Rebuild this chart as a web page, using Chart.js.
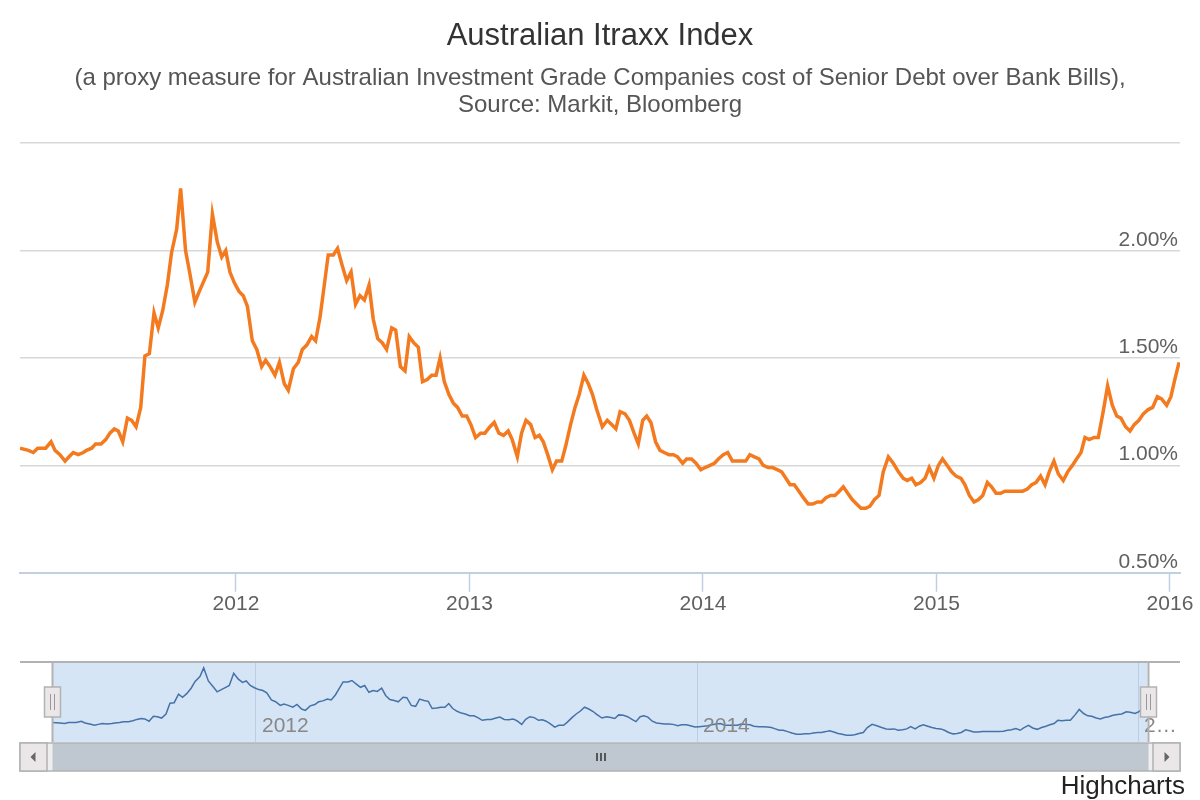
<!DOCTYPE html>
<html>
<head>
<meta charset="utf-8">
<title>Australian Itraxx Index</title>
<script src="https://cdn.jsdelivr.net/npm/chart.js@4.4.1/dist/chart.umd.min.js"></script>
<style>
  html, body { margin: 0; padding: 0; background: #fff; }
  #wrap { position: relative; width: 1200px; height: 800px; }
  #mainBox { position: absolute; left: 0; top: 0; width: 1200px; height: 640px; }
  #navBox { position: absolute; left: 0; top: 640px; width: 1200px; height: 160px; }
</style>
</head>
<body>
<div id="wrap">
  <div id="mainBox"><canvas id="mainChart"></canvas></div>
  <div id="navBox"><canvas id="navChart"></canvas></div>
</div>
<script>
// Texts
const chartTitle = 'Australian Itraxx Index';
const chartSubtitle = [
    '(a proxy measure for Australian Investment Grade Companies cost of Senior Debt over Bank Bills),',
    'Source: Markit, Bloomberg'
];
const creditText = 'Highcharts';

const dates = [
    2011.075, 2011.111, 2011.132, 2011.151, 2011.168, 2011.185, 2011.208, 2011.225, 2011.246, 2011.268,
    2011.285, 2011.303, 2011.325, 2011.346, 2011.360, 2011.382, 2011.399, 2011.422, 2011.442, 2011.460,
    2011.479, 2011.496, 2011.515, 2011.535, 2011.553, 2011.572, 2011.592, 2011.610, 2011.629, 2011.649,
    2011.667, 2011.686, 2011.706, 2011.724, 2011.746, 2011.763, 2011.784, 2011.803, 2011.824, 2011.843,
    2011.863, 2011.879, 2011.899, 2011.920, 2011.939, 2011.956, 2011.974, 2011.993, 2012.013, 2012.031,
    2012.049, 2012.070, 2012.089, 2012.110, 2012.127, 2012.146, 2012.167, 2012.186, 2012.207, 2012.224,
    2012.246, 2012.267, 2012.284, 2012.303,
    2012.324, 2012.341, 2012.360, 2012.377, 2012.395, 2012.417, 2012.435, 2012.455, 2012.474, 2012.493,
    2012.512, 2012.531, 2012.550, 2012.570, 2012.588, 2012.607, 2012.627, 2012.645, 2012.667, 2012.684,
    2012.704, 2012.724, 2012.742, 2012.762, 2012.781, 2012.799, 2012.819, 2012.838, 2012.857, 2012.874,
    2012.892, 2012.912, 2012.931, 2012.949, 2012.969, 2012.988, 2013.006, 2013.026, 2013.048, 2013.066,
    2013.088, 2013.106, 2013.126, 2013.146, 2013.166, 2013.183, 2013.205, 2013.223, 2013.242, 2013.262,
    2013.281, 2013.299, 2013.316, 2013.335, 2013.355, 2013.373, 2013.395, 2013.412, 2013.433, 2013.452,
    2013.470, 2013.490, 2013.509, 2013.527, 2013.545,
    2013.569, 2013.590, 2013.609, 2013.627, 2013.645, 2013.666, 2013.685, 2013.705, 2013.723, 2013.742,
    2013.759, 2013.777, 2013.797, 2013.816, 2013.834, 2013.854, 2013.873, 2013.891, 2013.913, 2013.930,
    2013.951, 2013.970, 2013.991, 2014.009, 2014.030, 2014.049, 2014.066, 2014.087, 2014.106, 2014.126,
    2014.144, 2014.166, 2014.183, 2014.201, 2014.220, 2014.240, 2014.258, 2014.280, 2014.298, 2014.318,
    2014.337, 2014.355, 2014.373, 2014.391, 2014.411, 2014.430, 2014.451, 2014.470, 2014.490, 2014.508,
    2014.527, 2014.547, 2014.565, 2014.584, 2014.601, 2014.620, 2014.640, 2014.658, 2014.677, 2014.697,
    2014.715, 2014.734, 2014.754, 2014.772, 2014.794,
    2014.815, 2014.837, 2014.858, 2014.875, 2014.894, 2014.912, 2014.932, 2014.951, 2014.969, 2014.989,
    2015.008, 2015.026, 2015.046, 2015.065, 2015.084, 2015.105, 2015.122, 2015.141, 2015.161, 2015.179,
    2015.198, 2015.218, 2015.236, 2015.255, 2015.275, 2015.293, 2015.312, 2015.332, 2015.350, 2015.369,
    2015.389, 2015.408, 2015.426, 2015.446, 2015.465, 2015.483, 2015.503, 2015.522, 2015.543, 2015.562,
    2015.582, 2015.600, 2015.619, 2015.636, 2015.654, 2015.675, 2015.693, 2015.714, 2015.733, 2015.753,
    2015.772, 2015.790, 2015.810, 2015.829, 2015.847, 2015.867, 2015.886, 2015.907, 2015.926, 2015.946,
    2015.964, 2015.986, 2016.004, 2016.021, 2016.039
];

// Index level in %
const itraxx = [
    1.08, 1.07, 1.06, 1.08, 1.08, 1.08, 1.11, 1.07, 1.05, 1.02,
    1.04, 1.06, 1.05, 1.06, 1.07, 1.08, 1.10, 1.10, 1.12, 1.15,
    1.17, 1.16, 1.11, 1.22, 1.21, 1.18, 1.27, 1.51, 1.52, 1.71,
    1.64, 1.72, 1.84, 1.99, 2.10, 2.29, 2.00, 1.89, 1.76, 1.81,
    1.86, 1.90, 2.17, 2.04, 1.97, 2.00, 1.90, 1.85, 1.81, 1.79,
    1.74, 1.58, 1.54, 1.46, 1.49, 1.46, 1.42, 1.48, 1.38, 1.35,
    1.45, 1.48, 1.54, 1.56,
    1.60, 1.58, 1.69, 1.83, 1.98, 1.98, 2.01, 1.93, 1.86, 1.90,
    1.75, 1.79, 1.77, 1.84, 1.68, 1.59, 1.57, 1.54, 1.64, 1.63,
    1.46, 1.44, 1.60, 1.57, 1.55, 1.39, 1.40, 1.42, 1.42, 1.50,
    1.39, 1.33, 1.29, 1.27, 1.23, 1.23, 1.19, 1.13, 1.15, 1.15,
    1.18, 1.20, 1.15, 1.14, 1.16, 1.12, 1.04, 1.15, 1.21, 1.19,
    1.13, 1.14, 1.11, 1.05, 0.98, 1.02, 1.02, 1.09, 1.19, 1.27,
    1.33, 1.42, 1.38, 1.33, 1.26,
    1.18, 1.21, 1.19, 1.17, 1.25, 1.24, 1.21, 1.15, 1.10, 1.21,
    1.23, 1.20, 1.11, 1.07, 1.06, 1.05, 1.05, 1.04, 1.01, 1.03,
    1.03, 1.01, 0.98, 0.99, 1.00, 1.01, 1.03, 1.05, 1.06, 1.02,
    1.02, 1.02, 1.02, 1.05, 1.04, 1.03, 1.00, 0.99, 0.99, 0.98,
    0.97, 0.94, 0.91, 0.91, 0.88, 0.85, 0.82, 0.82, 0.83, 0.83,
    0.85, 0.86, 0.86, 0.88, 0.90, 0.87, 0.84, 0.82, 0.80, 0.80,
    0.81, 0.84, 0.86, 0.97, 1.04,
    1.01, 0.97, 0.94, 0.93, 0.94, 0.91, 0.92, 0.94, 0.99, 0.94,
    1.00, 1.03, 1.00, 0.97, 0.95, 0.94, 0.91, 0.86, 0.83, 0.84,
    0.86, 0.92, 0.90, 0.87, 0.87, 0.88, 0.88, 0.88, 0.88, 0.88,
    0.89, 0.91, 0.92, 0.95, 0.91, 0.97, 1.02, 0.96, 0.93, 0.97,
    1.00, 1.03, 1.06, 1.13, 1.12, 1.13, 1.13, 1.25, 1.37, 1.28,
    1.23, 1.22, 1.18, 1.16, 1.19, 1.21, 1.24, 1.26, 1.27, 1.32,
    1.31, 1.28, 1.32, 1.40, 1.48
];

// Axis ticks
const yTicks = [0.5, 1.0, 1.5, 2.0, 2.5];
const xYears = [2012, 2013, 2014, 2015, 2016];
const navYears = [2012, 2014, 2016];

// Visible range of the main chart and full range of the navigator
const viewStart = 2011.075;
const viewEnd = 2016.043;
const navStart = 2010.93;
const navEnd = 2016.19;

const FONT = '"Liberation Sans", Arial, sans-serif';
Chart.defaults.font.family = FONT;
Chart.defaults.color = '#606060';
Chart.defaults.animation = false;

const points = dates.map((d, i) => ({ x: d, y: itraxx[i] }));

// Y labels sit on top of the grid lines, right aligned (Highcharts style)
const yLabelPlugin = {
    id: 'yLabels',
    afterDatasetsDraw(chart) {
        const { ctx, chartArea, scales: { y } } = chart;
        ctx.save();
        ctx.font = '21px ' + FONT;
        ctx.fillStyle = '#606060';
        ctx.textAlign = 'right';
        ctx.textBaseline = 'alphabetic';
        y.ticks.forEach(t => {
            if (t.value >= y.max) return;
            ctx.fillText(t.value.toFixed(2) + '%', chartArea.right - 2, y.getPixelForValue(t.value) - 5);
        });
        ctx.restore();
    }
};

new Chart(document.getElementById('mainChart'), {
    type: 'line',
    data: {
        datasets: [{
            data: points,
            borderColor: '#f47a20',
            borderWidth: 3.5,
            pointRadius: 0,
            tension: 0,
            fill: false
        }]
    },
    options: {
        responsive: true,
        maintainAspectRatio: false,
        layout: { padding: { left: 20, right: 20, top: 0, bottom: 23 } },
        plugins: {
            legend: { display: false },
            tooltip: { enabled: false },
            title: {
                display: true,
                text: chartTitle,
                color: '#333333',
                font: { size: 31, weight: 'normal' },
                padding: { top: 18, bottom: 2 }
            },
            subtitle: {
                display: true,
                text: chartSubtitle,
                color: '#555555',
                font: { size: 24, lineHeight: 1.125 },
                padding: { top: 8, bottom: 24 }
            }
        },
        scales: {
            x: {
                type: 'linear',
                min: viewStart,
                max: viewEnd,
                afterBuildTicks: s => { s.ticks = xYears.map(v => ({ value: v })); },
                ticks: {
                    color: '#606060',
                    font: { size: 21 },
                    padding: 0,
                    maxRotation: 0,
                    autoSkip: false,
                    callback: v => String(v)
                },
                grid: {
                    drawOnChartArea: false,
                    drawTicks: true,
                    tickLength: 19,
                    tickColor: '#C0D0E0',
                    tickWidth: 1.5
                },
                border: { display: true, color: '#C0D0E0', width: 2 }
            },
            y: {
                position: 'right',
                min: 0.5,
                max: 2.5,
                afterBuildTicks: s => { s.ticks = yTicks.map(v => ({ value: v })); },
                ticks: { display: false },
                grid: {
                    color: c => (c.index === 0 ? 'rgba(0,0,0,0)' : '#D8D8D8'),
                    lineWidth: 1.5,
                    drawTicks: false
                },
                border: { display: false }
            }
        }
    },
    plugins: [yLabelPlugin]
});

// Navigator: selection mask, outline, handles, scrollbar, labels and credits
const navigatorPlugin = {
    id: 'navigatorParts',
    beforeDraw(chart) {
        const { ctx, chartArea, scales: { x } } = chart;
        const x1 = x.getPixelForValue(viewStart);
        const x2 = x.getPixelForValue(viewEnd);
        ctx.save();
        ctx.fillStyle = '#D6E5F6';
        ctx.fillRect(x1, chartArea.top, x2 - x1, chartArea.bottom - chartArea.top);
        ctx.restore();
    },
    afterDatasetsDraw(chart) {
        const { ctx, chartArea, scales: { x } } = chart;
        const x1 = Math.round(x.getPixelForValue(viewStart)) + 0.5;
        const x2 = Math.round(x.getPixelForValue(viewEnd)) + 0.5;
        const top = chartArea.top;
        const bottom = chartArea.bottom;
        const midY = (top + bottom) / 2;
        ctx.save();

        // year labels inside the navigator
        ctx.font = '21px ' + FONT;
        ctx.fillStyle = '#888888';
        ctx.textAlign = 'left';
        ctx.textBaseline = 'middle';
        navYears.forEach(v => {
            const px = x.getPixelForValue(v) + 6;
            let label = String(v);
            if (px + ctx.measureText(label).width > chartArea.right) {
                while (label.length > 1 && px + ctx.measureText(label + '\u2026').width > chartArea.right) {
                    label = label.slice(0, -1);
                }
                label += '\u2026';
            }
            ctx.fillText(label, px, bottom - 16);
        });

        // outline
        ctx.strokeStyle = '#B2B2B2';
        ctx.lineWidth = 2;
        ctx.beginPath();
        ctx.moveTo(chartArea.left, top);
        ctx.lineTo(chartArea.right, top);
        ctx.moveTo(x1, top);
        ctx.lineTo(x1, bottom);
        ctx.moveTo(x2, top);
        ctx.lineTo(x2, bottom);
        ctx.stroke();

        // scrollbar
        const sTop = bottom + 1;
        const sH = 28;
        const btnW = 27;
        ctx.lineWidth = 1.5;
        ctx.fillStyle = '#EEEEEE';
        ctx.fillRect(chartArea.left, sTop, chartArea.right - chartArea.left, sH);
        ctx.fillStyle = '#BFC8D1';
        ctx.fillRect(x1, sTop, x2 - x1, sH);
        ctx.strokeStyle = '#B2B2B2';
        ctx.strokeRect(chartArea.left, sTop, chartArea.right - chartArea.left, sH);
        [chartArea.left, chartArea.right - btnW].forEach((bx, i) => {
            ctx.fillStyle = '#EBE7E8';
            ctx.fillRect(bx, sTop, btnW, sH);
            ctx.strokeStyle = '#B2B2B2';
            ctx.strokeRect(bx, sTop, btnW, sH);
            const cx = bx + btnW / 2;
            const cy = sTop + sH / 2;
            ctx.fillStyle = '#666666';
            ctx.beginPath();
            if (i === 0) {
                ctx.moveTo(cx + 2, cy - 5);
                ctx.lineTo(cx - 3, cy);
                ctx.lineTo(cx + 2, cy + 5);
            } else {
                ctx.moveTo(cx - 2, cy - 5);
                ctx.lineTo(cx + 3, cy);
                ctx.lineTo(cx - 2, cy + 5);
            }
            ctx.closePath();
            ctx.fill();
        });
        // grip on the scrollbar thumb
        const gx = Math.round((x1 + x2) / 2);
        const gy = sTop + sH / 2;
        ctx.strokeStyle = '#333333';
        ctx.lineWidth = 1.5;
        ctx.beginPath();
        [-4, 0, 4].forEach(d => {
            ctx.moveTo(gx + d, gy - 4);
            ctx.lineTo(gx + d, gy + 4);
        });
        ctx.stroke();

        // handles
        [x1, x2].forEach(hx => {
            ctx.fillStyle = '#EBE7E8';
            ctx.fillRect(hx - 8, midY - 15, 16, 30);
            ctx.strokeStyle = '#B2B2B2';
            ctx.lineWidth = 1.5;
            ctx.strokeRect(hx - 8, midY - 15, 16, 30);
            ctx.strokeStyle = '#999999';
            ctx.lineWidth = 1;
            ctx.beginPath();
            ctx.moveTo(hx - 2, midY - 8);
            ctx.lineTo(hx - 2, midY + 8);
            ctx.moveTo(hx + 2, midY - 8);
            ctx.lineTo(hx + 2, midY + 8);
            ctx.stroke();
        });

        // credits
        ctx.font = '26px ' + FONT;
        ctx.fillStyle = '#222222';
        ctx.textAlign = 'right';
        ctx.textBaseline = 'alphabetic';
        ctx.fillText(creditText, chart.width - 15, chart.height - 6);

        ctx.restore();
    }
};

new Chart(document.getElementById('navChart'), {
    type: 'line',
    data: {
        datasets: [{
            data: points,
            borderColor: '#4572A7',
            borderWidth: 1.5,
            pointRadius: 0,
            tension: 0,
            fill: false
        }]
    },
    options: {
        responsive: true,
        maintainAspectRatio: false,
        layout: { padding: { left: 20, right: 20, top: 22, bottom: 58 } },
        plugins: {
            legend: { display: false },
            tooltip: { enabled: false }
        },
        scales: {
            x: {
                type: 'linear',
                min: navStart,
                max: navEnd,
                afterBuildTicks: s => { s.ticks = navYears.map(v => ({ value: v })); },
                ticks: { display: false },
                grid: { color: 'rgba(120,150,190,0.3)', lineWidth: 1, drawTicks: false },
                border: { display: false }
            },
            y: {
                display: false,
                min: 0.65,
                max: 2.42
            }
        }
    },
    plugins: [navigatorPlugin]
});
</script>
</body>
</html>
